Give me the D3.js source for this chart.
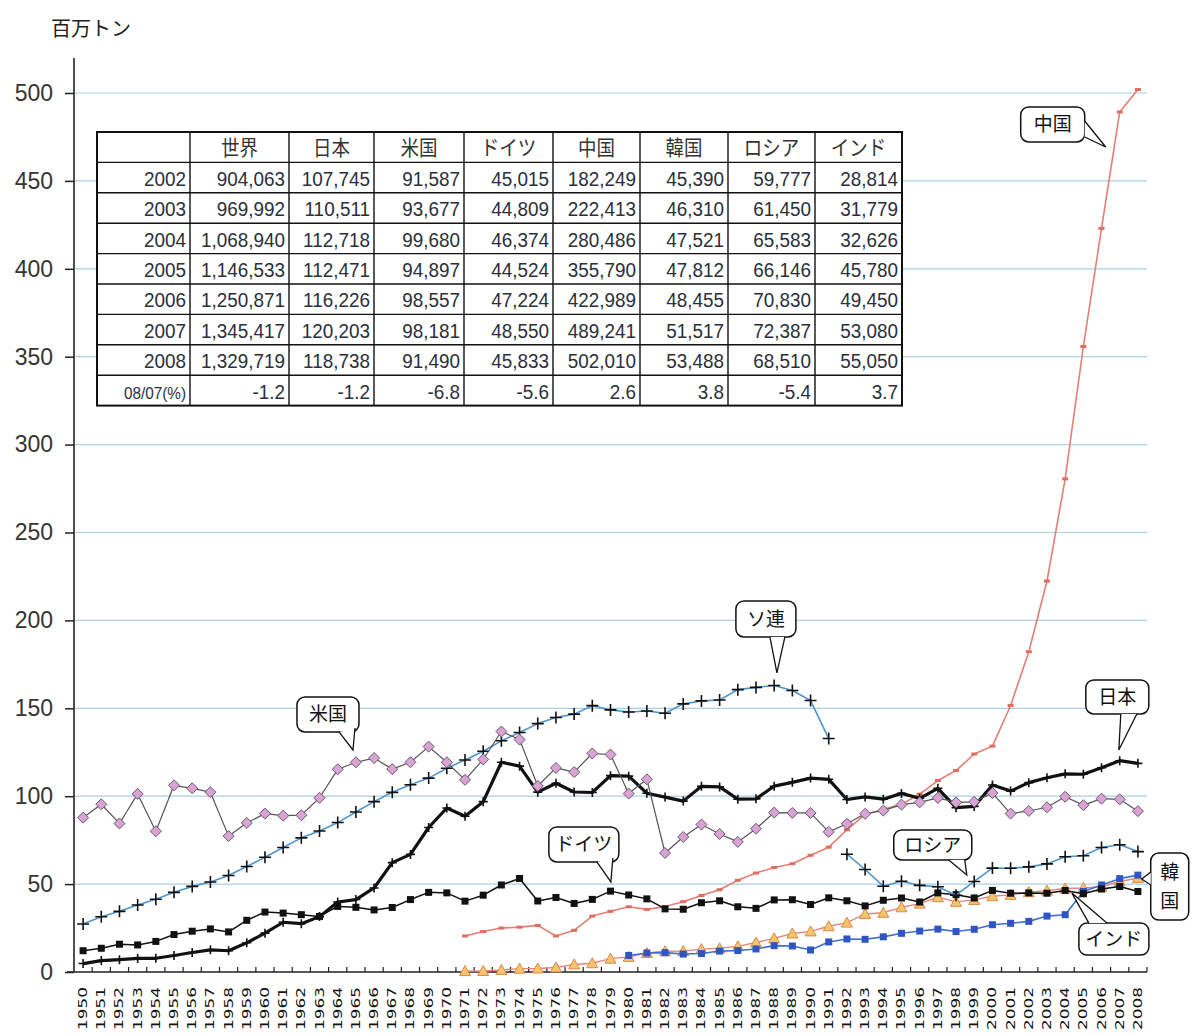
<!DOCTYPE html>
<html><head><meta charset="utf-8">
<script src="https://cdn.jsdelivr.net/npm/d3@7/dist/d3.min.js"></script>
<style>body{margin:0;background:#fff}svg{display:block}</style>
</head><body>
<svg id="c" width="1192" height="1034"></svg>
<script>
// ---------- data ----------
const years = [1950,1951,1952,1953,1954,1955,1956,1957,1958,1959,1960,1961,1962,1963,1964,1965,1966,1967,1968,1969,
1970,1971,1972,1973,1974,1975,1976,1977,1978,1979,1980,1981,1982,1983,1984,1985,1986,1987,1988,1989,
1990,1991,1992,1993,1994,1995,1996,1997,1998,1999,2000,2001,2002,2003,2004,2005,2006,2007,2008];
const yTicks = [0,50,100,150,200,250,300,350,400,450,500];

const usa = [87.8,95.4,84.5,101.3,80.1,106.2,104.5,102.3,77.3,84.8,
90.1,88.9,89.2,99.1,115.3,119.3,121.7,115.4,119.3,128.2,
119.3,109.3,120.9,136.8,132.2,105.8,116.1,113.7,124.3,123.7,
101.5,109.6,67.7,76.8,83.9,78.5,74.0,81.5,90.7,90.5,
90.5,79.7,84.3,90.0,91.8,95.2,96.5,99.0,96.5,96.8,
101.8,90.1,91.6,93.7,99.7,94.9,98.6,98.2,91.5];
const japan = [4.8,6.5,7.0,7.7,7.8,9.4,11.1,12.6,12.1,16.6,
22.1,28.3,27.5,31.5,39.8,41.2,47.8,62.2,66.9,82.2,
93.3,88.6,96.9,119.3,117.1,102.3,107.4,102.4,102.1,111.7,
111.4,101.7,99.5,97.2,105.6,105.3,98.3,98.5,105.7,107.9,
110.3,109.6,98.1,99.6,98.3,101.6,98.8,104.5,93.5,94.2,
106.4,102.9,107.7,110.5,112.7,112.5,116.2,120.2,118.7];
const germany = [12.1,13.5,15.8,15.4,17.4,21.3,23.2,24.5,22.8,29.4,
34.1,33.5,32.6,31.6,37.3,36.8,35.3,36.7,41.2,45.3,
45.0,40.3,43.7,49.5,53.2,40.4,42.4,39.0,41.3,46.0,
43.8,41.6,35.9,35.7,39.4,40.5,37.1,36.2,41.0,41.1,
38.4,42.2,40.5,37.6,40.8,42.1,39.8,45.0,44.0,42.1,
46.4,44.8,45.0,44.8,46.4,44.5,47.2,48.6,45.8];
const ussr = [27.3,31.4,34.5,38.1,41.4,45.3,48.7,51.2,54.9,60.0,
65.3,70.8,76.3,80.2,85.0,91.0,96.9,102.2,106.5,110.3,
115.9,120.6,125.6,131.5,136.2,141.3,144.8,146.7,151.5,149.1,
147.9,148.5,147.2,152.5,154.2,154.7,160.6,161.9,163.0,160.1,
154.4,132.8];               // 1950-1991
const russia = [67.0,58.3,48.8,51.6,49.3,48.5,43.7,51.5,59.1,59.0,
59.8,61.5,65.6,66.1,70.8,72.4,68.5];   // 1992-2008
const china = [20.5,23.0,25.0,25.5,26.5,20.5,23.7,31.8,34.5,37.1,
35.6,37.2,40.0,43.5,46.8,52.2,56.3,59.4,61.6,66.4,
71.0,80.9,89.6,92.6,95.4,101.2,108.9,114.6,124.0,128.5,
151.6,182.2,222.4,280.5,355.8,423.0,489.2,502.0];   // 1971-2008
const korea = [0.5,0.6,1.2,1.9,2.0,2.6,4.3,5.0,7.6,8.6,
10.8,11.8,11.9,13.0,13.5,14.6,16.8,19.1,21.9,23.1,
26.0,28.1,33.0,33.7,36.8,38.9,42.6,39.9,41.0,43.1,
43.9,45.4,46.3,47.5,47.8,48.5,51.5,53.5];   // 1971-2008
const india = [9.4,10.8,11.0,10.2,10.5,11.9,12.2,13.1,15.0,14.8,
12.5,17.1,18.8,18.6,20.0,22.0,23.3,24.4,23.0,24.3,
26.9,27.7,28.8,31.8,32.6,45.8,49.5,53.1,55.1];   // 1980-2008

// table
const tableHeader = ["", "世界", "日本", "米国", "ドイツ", "中国", "韓国", "ロシア", "インド"];
const tableRows = [
 ["2002","904,063","107,745","91,587","45,015","182,249","45,390","59,777","28,814"],
 ["2003","969,992","110,511","93,677","44,809","222,413","46,310","61,450","31,779"],
 ["2004","1,068,940","112,718","99,680","46,374","280,486","47,521","65,583","32,626"],
 ["2005","1,146,533","112,471","94,897","44,524","355,790","47,812","66,146","45,780"],
 ["2006","1,250,871","116,226","98,557","47,224","422,989","48,455","70,830","49,450"],
 ["2007","1,345,417","120,203","98,181","48,550","489,241","51,517","72,387","53,080"],
 ["2008","1,329,719","118,738","91,490","45,833","502,010","53,488","68,510","55,050"],
 ["08/07(%)","-1.2","-1.2","-6.8","-5.6","2.6","3.8","-5.4","3.7"]
];

// labels (bubble callouts), tip given in data units
const callouts = [
 {t:"中国",  yr:2006.23, v:469.3},
 {t:"ソ連",  yr:1988.15, v:170.1},
 {t:"米国",  yr:1964.84, v:126.3},
 {t:"日本",  yr:2006.95, v:126.3},
 {t:"ドイツ", yr:1979.02, v:51.2},
 {t:"ロシア", yr:1998.59, v:55.2},
 {t:"韓国",  yr:2008.21, v:52.9},
 {t:"インド", yr:2004.37, v:44.9}
];

// ---------- helpers ----------
function pad(arr, startYear) {
  const out = years.map(() => null);
  arr.forEach((v, i) => { out[years.indexOf(startYear + i)] = v; });
  return out;
}

const svg = d3.select("#c");
const x = d3.scaleBand().domain(years).range([74, 1147]).paddingInner(0).paddingOuter(0);
const cx = yr => x(yr) + x.bandwidth() / 2;
const xf = yr => x(1950) + x.bandwidth() / 2 + (yr - 1950) * x.step();
const y = d3.scaleLinear().domain([0, 500]).range([972, 93]);

// title
svg.append("text").attr("x", 51).attr("y", 36)
  .attr("font-family", "'Noto Sans CJK JP', sans-serif").attr("font-size", 20)
  .attr("fill", "#222").text("百万トン");

// gridlines
svg.append("g").selectAll("line").data(yTicks.filter(d => d > 0)).join("line")
  .attr("x1", 75).attr("x2", 1147).attr("y1", d => y(d)).attr("y2", d => y(d))
  .attr("stroke", "#a9cfe2").attr("stroke-width", 1.2);

// y axis
const yAxis = d3.axisLeft(y).tickValues(yTicks).tickSize(9).tickPadding(12).tickSizeOuter(0);
const gy = svg.append("g").attr("transform", "translate(74,0)").call(yAxis);
gy.select(".domain").remove();
gy.selectAll(".tick line").attr("stroke", "#222").attr("stroke-width", 1.5);
gy.selectAll(".tick text").attr("font-family", "'Liberation Sans', Arial, sans-serif")
  .attr("font-size", 23).attr("fill", "#333");
svg.append("line").attr("x1", 74).attr("x2", 74).attr("y1", 58).attr("y2", 972)
  .attr("stroke", "#222").attr("stroke-width", 1.6);

// x axis
const gx = svg.append("g").attr("transform", "translate(0,972)");
gx.append("line").attr("x1", 67).attr("x2", 1147).attr("y1", 0).attr("y2", 0)
  .attr("stroke", "#222").attr("stroke-width", 1.6);
const bounds = years.map(d => x(d)).concat([x(2008) + x.bandwidth()]);
gx.selectAll("line.tk").data(bounds.slice(1)).join("line").attr("class", "tk")
  .attr("x1", d => d).attr("x2", d => d).attr("y1", 0).attr("y2", -5)
  .attr("stroke", "#222").attr("stroke-width", 1.2);
gx.selectAll("text").data(years).join("text")
  .attr("transform", d => `translate(${cx(d) + 4},${15}) rotate(-90)`)
  .attr("text-anchor", "end")
  .attr("font-family", "'DejaVu Sans', sans-serif").attr("font-size", 13)
  .attr("fill", "#111")
  .attr("textLength", 43).attr("lengthAdjust", "spacingAndGlyphs")
  .text(d => d);

// ---------- table ----------
const colX = [97, 190, 289, 374, 464, 553, 640, 728, 815, 902];
const rowY0 = 132, rowH = 30.4;
const tg = svg.append("g");
tg.append("rect").attr("x", colX[0]).attr("y", rowY0)
  .attr("width", colX[9] - colX[0]).attr("height", rowH * 9)
  .attr("fill", "#fff").attr("stroke", "#111").attr("stroke-width", 2);
tg.selectAll("line.v").data(colX.slice(1, 9)).join("line").attr("class", "v")
  .attr("x1", d => d).attr("x2", d => d).attr("y1", rowY0).attr("y2", rowY0 + rowH * 9)
  .attr("stroke", "#111").attr("stroke-width", 1.4);
tg.selectAll("line.h").data(d3.range(1, 9)).join("line").attr("class", "h")
  .attr("x1", colX[0]).attr("x2", colX[9]).attr("y1", d => rowY0 + d * rowH).attr("y2", d => rowY0 + d * rowH)
  .attr("stroke", "#111").attr("stroke-width", 1.4);
tableHeader.forEach((h, j) => {
  if (!h) return;
  tg.append("text")
    .attr("transform", `translate(${(colX[j] + colX[j + 1]) / 2},${rowY0 + rowH - 7}) scale(0.88,1)`)
    .attr("text-anchor", "middle").attr("font-family", "'Noto Sans CJK JP', sans-serif")
    .attr("font-size", 21).attr("fill", "#333").text(h);
});
tableRows.forEach((r, i) => {
  r.forEach((c, j) => {
    const t = tg.append("text")
      .attr("transform", `translate(${colX[j + 1] - 4},${rowY0 + (i + 2) * rowH - 7}) scale(0.9,1)`)
      .attr("text-anchor", "end")
      .attr("font-family", "'Liberation Sans', sans-serif")
      .attr("font-size", 21).attr("fill", "#2b2f3a").text(c);
    if (j === 0 && i === 7) t.attr("font-size", 17);
  });
});

// ---------- series ----------
const series = [
  {name:"korea", vals: pad(korea, 1971), line:"#e9857a", lw:1.4, marker:"tri"},
  {name:"india", vals: pad(india, 1980), line:"#3f6fd0", lw:1.6, marker:"sqBlue"},
  {name:"china", vals: pad(china, 1971), line:"#e57f73", lw:1.6, marker:"dash"},
  {name:"germany", vals: pad(germany, 1950), line:"#111", lw:1.5, marker:"sq"},
  {name:"ussr", vals: pad(ussr, 1950), line:"#4e95cf", lw:1.6, marker:"plus"},
  {name:"russia", vals: pad(russia, 1992), line:"#4e95cf", lw:1.6, marker:"plus"},
  {name:"japan", vals: pad(japan, 1950), line:"#111", lw:3.2, marker:"smallplus"},
  {name:"usa", vals: pad(usa, 1950), line:"#555", lw:1.2, marker:"dia"}
];

const line = d3.line().defined(d => d.v != null).x(d => cx(d.yr)).y(d => y(d.v));
series.forEach(s => {
  const pts = years.map((yr, i) => ({yr, v: s.vals[i]}));
  const g = svg.append("g");
  g.append("path").attr("d", line(pts)).attr("fill", "none")
    .attr("stroke", s.line).attr("stroke-width", s.lw).attr("stroke-linejoin", "round");
  const p = pts.filter(d => d.v != null);
  const m = g.selectAll("g.m").data(p).join("g")
    .attr("transform", d => `translate(${cx(d.yr)},${y(d.v)})`);
  if (s.marker === "dia") {
    m.append("path").attr("d", "M0,-5.5L5.5,0L0,5.5L-5.5,0Z")
      .attr("fill", "#d9a3d6").attr("stroke", "#6a5a6a").attr("stroke-width", 1);
  } else if (s.marker === "sq") {
    m.append("rect").attr("x", -3.5).attr("y", -3.5).attr("width", 7).attr("height", 7).attr("fill", "#111");
  } else if (s.marker === "sqBlue") {
    m.append("rect").attr("x", -3.5).attr("y", -3.5).attr("width", 7).attr("height", 7).attr("fill", "#2f55c4");
  } else if (s.marker === "plus") {
    m.append("path").attr("d", "M-6,0H6M0,-6V6").attr("stroke", "#111").attr("stroke-width", 1.6);
  } else if (s.marker === "smallplus") {
    m.append("path").attr("d", "M-4.5,0H4.5M0,-4.5V4.5").attr("stroke", "#111").attr("stroke-width", 1.6);
  } else if (s.marker === "tri") {
    m.append("path").attr("d", "M0,-5.5L5.5,4.5L-5.5,4.5Z")
      .attr("fill", "#f6c46a").attr("stroke", "#d98a4a").attr("stroke-width", 1);
  } else if (s.marker === "dash") {
    m.append("rect").attr("x", -3).attr("y", -1.5).attr("width", 6).attr("height", 3).attr("fill", "#df6e62");
  }
});

// ---------- callouts ----------
// box: offsets from tip (dx, dy, w, h); base: two points on the box edge relative to tip
const calloutLayout = {
  "中国":  {box:[-85,-40,64,35], base:[[-21,-26],[-21,-10]]},
  "ソ連":  {box:[-41,-72,60,36], base:[[-7,-36],[8,-36]]},
  "米国":  {box:[-56,-53,62,35], base:[[-14,-18],[2,-22]]},
  "日本":  {box:[-33,-70,63,34], base:[[2,-36],[18,-36]]},
  "ドイツ": {box:[-62,-55,70,35], base:[[-14,-20],[2,-24]]},
  "ロシア": {box:[-73,-45,78,30], base:[[-18,-15],[-2,-15]]},
  "韓国":  {box:[9,-26,38,67], base:[[9,-7],[9,6]], vertical:true},
  "インド": {box:[7,30,70,32], base:[[17,30],[35,30]]}
};
const cg = svg.append("g");
callouts.forEach(c => {
  const L = calloutLayout[c.t];
  const tx = xf(c.yr), ty = y(c.v);
  const [dx, dy, w, h] = L.box;
  const g = cg.append("g").attr("transform", `translate(${tx},${ty})`);
  g.append("rect").attr("x", dx).attr("y", dy).attr("width", w).attr("height", h)
    .attr("rx", 8).attr("fill", "#fff").attr("stroke", "#111").attr("stroke-width", 1.5);
  const [b1, b2] = L.base;
  g.append("path").attr("d", `M${b1[0]},${b1[1]}L0,0L${b2[0]},${b2[1]}Z`).attr("fill", "#fff");
  g.append("path").attr("d", `M${b1[0]},${b1[1]}L0,0L${b2[0]},${b2[1]}`)
    .attr("fill", "none").attr("stroke", "#111").attr("stroke-width", 1.3);
  const font = "'Noto Sans CJK JP', sans-serif";
  if (L.vertical) {
    [...c.t].forEach((ch, k) => {
      g.append("text").attr("x", dx + w / 2).attr("y", dy + 26 + k * 29).attr("text-anchor", "middle")
        .attr("font-family", font).attr("font-size", 19).attr("fill", "#111").text(ch);
    });
  } else {
    g.append("text").attr("x", dx + w / 2).attr("y", dy + h / 2 + 7).attr("text-anchor", "middle")
      .attr("font-family", font).attr("font-size", 19).attr("fill", "#111").text(c.t);
  }
});
</script>
</body></html>
